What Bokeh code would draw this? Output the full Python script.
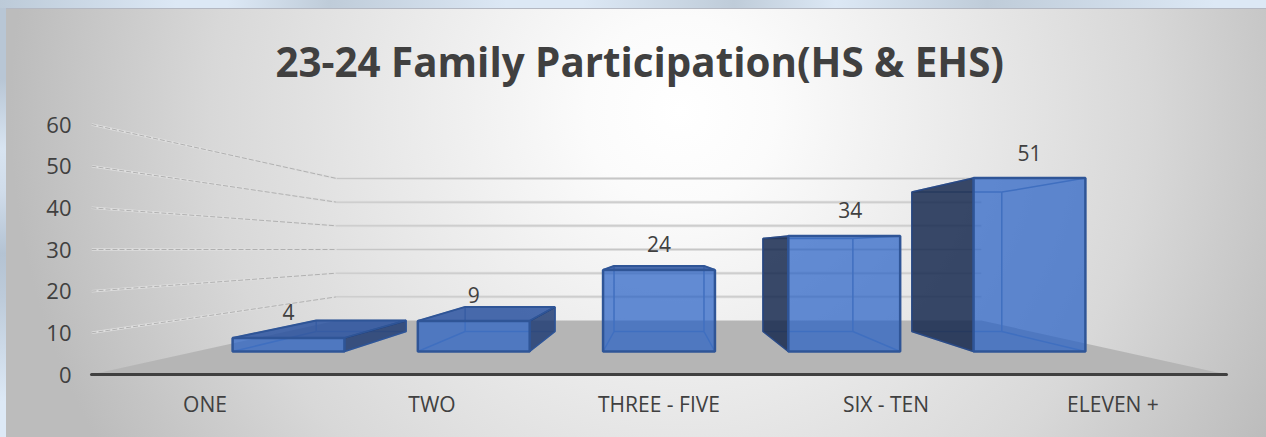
from bokeh.plotting import figure
from bokeh.models import FactorRange, Range1d, ColumnDataSource, FixedTicker
from bokeh.embed import file_html
from bokeh.resources import INLINE
from bokeh.core.properties import value

# ---- data ----
categories = ["ONE", "TWO", "THREE - FIVE", "SIX - TEN", "ELEVEN +"]
participation = [4, 9, 24, 34, 51]
y_ticks = [0, 10, 20, 30, 40, 50, 60]
title = "23-24 Family Participation(HS & EHS)"

# ---- 3D projection of the Excel-style chart ----
VP_X, VP_Y = 2.5, 30.0       # vanishing point in data coordinates
WALL_S = 0.568               # depth scale at the back wall
BAR_FRONT_S, BAR_BACK_S = 0.816, 0.656
BAR_WIDTH = 0.604
LABEL_LIFT = 7.5
LABEL_DX = [0, 0, 0, 6, 0]

TEXT = "#404040"
FONT = "Open Sans"


def proj(x, v, s):
    return VP_X + (x - VP_X) * s, VP_Y + (v - VP_Y) * s


background = (
    "linear-gradient(#b4b8c2, #b4b8c2) 6px 8px / 1260px 1px no-repeat,"
    "radial-gradient(circle 670px at 674px 102px, #ffffff 0%, #fbfbfb 14%, #e8e8e8 45%, #d8d8d8 70%, #bcbcbc 100%) 6px 9px / 1260px 428px no-repeat,"
    "linear-gradient(90deg, #bccad8 0%, #dce8f5 14%, #dce8f5 18%, #bfccd9 26%, #dce8f5 40%, #dce8f5 46%, #bfccd9 58%, #dce8f5 66%, #bfccd9 78%, #dce8f5 96%) 0 0 / 1266px 8px no-repeat,"
    "linear-gradient(180deg, #b8c6d5 0%, #b8c6d5 18%, #d8e4f1 34%, #d0dcea 44%, #b4c3d3 58%, #bdcbda 68%, #dde9f6 92%, #dde9f6 100%)"
)

p = figure(
    width=1266, height=437,
    frame_width=1135, frame_height=260,
    min_border_left=91, min_border_right=40, min_border_top=114, min_border_bottom=63,
    x_range=FactorRange(factors=categories, factor_padding=0, range_padding=0, group_padding=0),
    y_range=Range1d(0, 62.4),
    output_backend="svg", toolbar_location=None,
    background_fill_alpha=0, border_fill_alpha=0,
    outline_line_color=None,
    styles={"position": "absolute", "left": "0", "top": "0", "background": background},
)

p.grid.visible = False

# title
p.title.text = title
p.title.text_font = FONT
p.title.text_font_style = "bold"
p.title.text_font_size = "40.3px"
p.title.text_color = TEXT
p.title.align = "left"
p.title.offset = 184
p.title.standoff = 51

# axes
p.yaxis.ticker = FixedTicker(ticks=y_ticks)
p.yaxis.axis_line_color = None
p.yaxis.major_tick_line_color = None
p.yaxis.minor_tick_line_color = None
p.yaxis.major_label_text_font = FONT
p.yaxis.major_label_text_font_size = "22px"
p.yaxis.major_label_text_color = TEXT
p.yaxis.major_label_standoff = 14

p.xaxis.axis_line_color = TEXT
p.xaxis.axis_line_width = 3
p.xaxis.axis_line_cap = "round"
p.xaxis.major_tick_line_color = None
p.xaxis.minor_tick_line_color = None
p.xaxis.major_label_text_font = FONT
p.xaxis.major_label_text_font_size = "21px"
p.xaxis.major_label_text_color = TEXT
p.xaxis.major_label_standoff = 9

n = len(categories)

# floor
fx, fy = zip(proj(0, 0, 1), proj(n, 0, 1), proj(n, 0, WALL_S), proj(0, 0, WALL_S))
p.patch(list(fx), list(fy), fill_color="#b5b5b5", line_color=None)

# walls with gridlines
for t in y_ticks:
    x0, y0 = proj(0, t, 1)
    x1, y1 = proj(0, t, WALL_S)
    x2, y2 = proj(n, t, WALL_S)
    if t > 0:
        p.line([x0, x1], [y0, y1], line_color="#dedede", line_width=2.5)
        p.line([x0, x1], [y0, y1], line_color="#b0b0b0", line_width=1, line_dash="5 2")
        p.line([x1, x2], [y1, y2], line_color="#dedede", line_width=3)
        p.line([x1, x2], [y1, y2], line_color="#c6c6c6", line_width=1)

# bars
FACE = "#235ec5"
EDGE = "#2f5597"
INNER = "#8096b4"
for i, v in enumerate(participation):
    xl, xr = i + 0.5 - BAR_WIDTH / 2, i + 0.5 + BAR_WIDTH / 2
    fbl, fbr = proj(xl, 0, BAR_FRONT_S), proj(xr, 0, BAR_FRONT_S)
    ftl, ftr = proj(xl, v, BAR_FRONT_S), proj(xr, v, BAR_FRONT_S)
    bbl, bbr = proj(xl, 0, BAR_BACK_S), proj(xr, 0, BAR_BACK_S)
    btl, btr = proj(xl, v, BAR_BACK_S), proj(xr, v, BAR_BACK_S)

    def quad(pts, **kw):
        xs, ys = zip(*pts)
        p.patch(list(xs), list(ys), **kw)

    # inner edges, muted by whatever is drawn over them
    for a, b in [(bbl, bbr), (bbr, btr), (btr, btl), (btl, bbl), (fbl, bbl), (fbr, bbr), (ftl, btl), (ftr, btr)]:
        p.line([a[0], b[0]], [a[1], b[1]], line_color=INNER, line_width=1.5)

    # outer faces that stick out of the front face
    if btl[1] > ftl[1]:
        quad([ftl, ftr, btr, btl], fill_color="#2a52a0", fill_alpha=0.85, line_color=EDGE, line_width=2)
    if btl[0] < ftl[0]:
        quad([fbl, ftl, btl, bbl], fill_color="#14274e", fill_alpha=0.84, line_color="#2b4a85", line_width=1.5)
    if btr[0] > ftr[0]:
        quad([fbr, ftr, btr, bbr], fill_color="#1f3c73", fill_alpha=0.84, line_color=EDGE, line_width=1.5)

    # front face, see-through
    quad([fbl, fbr, ftr, ftl], fill_color=FACE, fill_alpha=0.7, line_color=EDGE, line_width=2.5)

# data labels
lx, ly = zip(*[proj(i + 0.5, v + LABEL_LIFT, BAR_FRONT_S) for i, v in enumerate(participation)])
src = ColumnDataSource(dict(x=list(lx), y=list(ly), t=[str(v) for v in participation], dx=LABEL_DX))
p.text(x="x", y="y", text="t", x_offset="dx", source=src, text_font=value(FONT), text_font_size="21px",
       text_color=TEXT, text_align="center", text_baseline="middle")

open("out.html", "w").write(file_html(p, INLINE))
